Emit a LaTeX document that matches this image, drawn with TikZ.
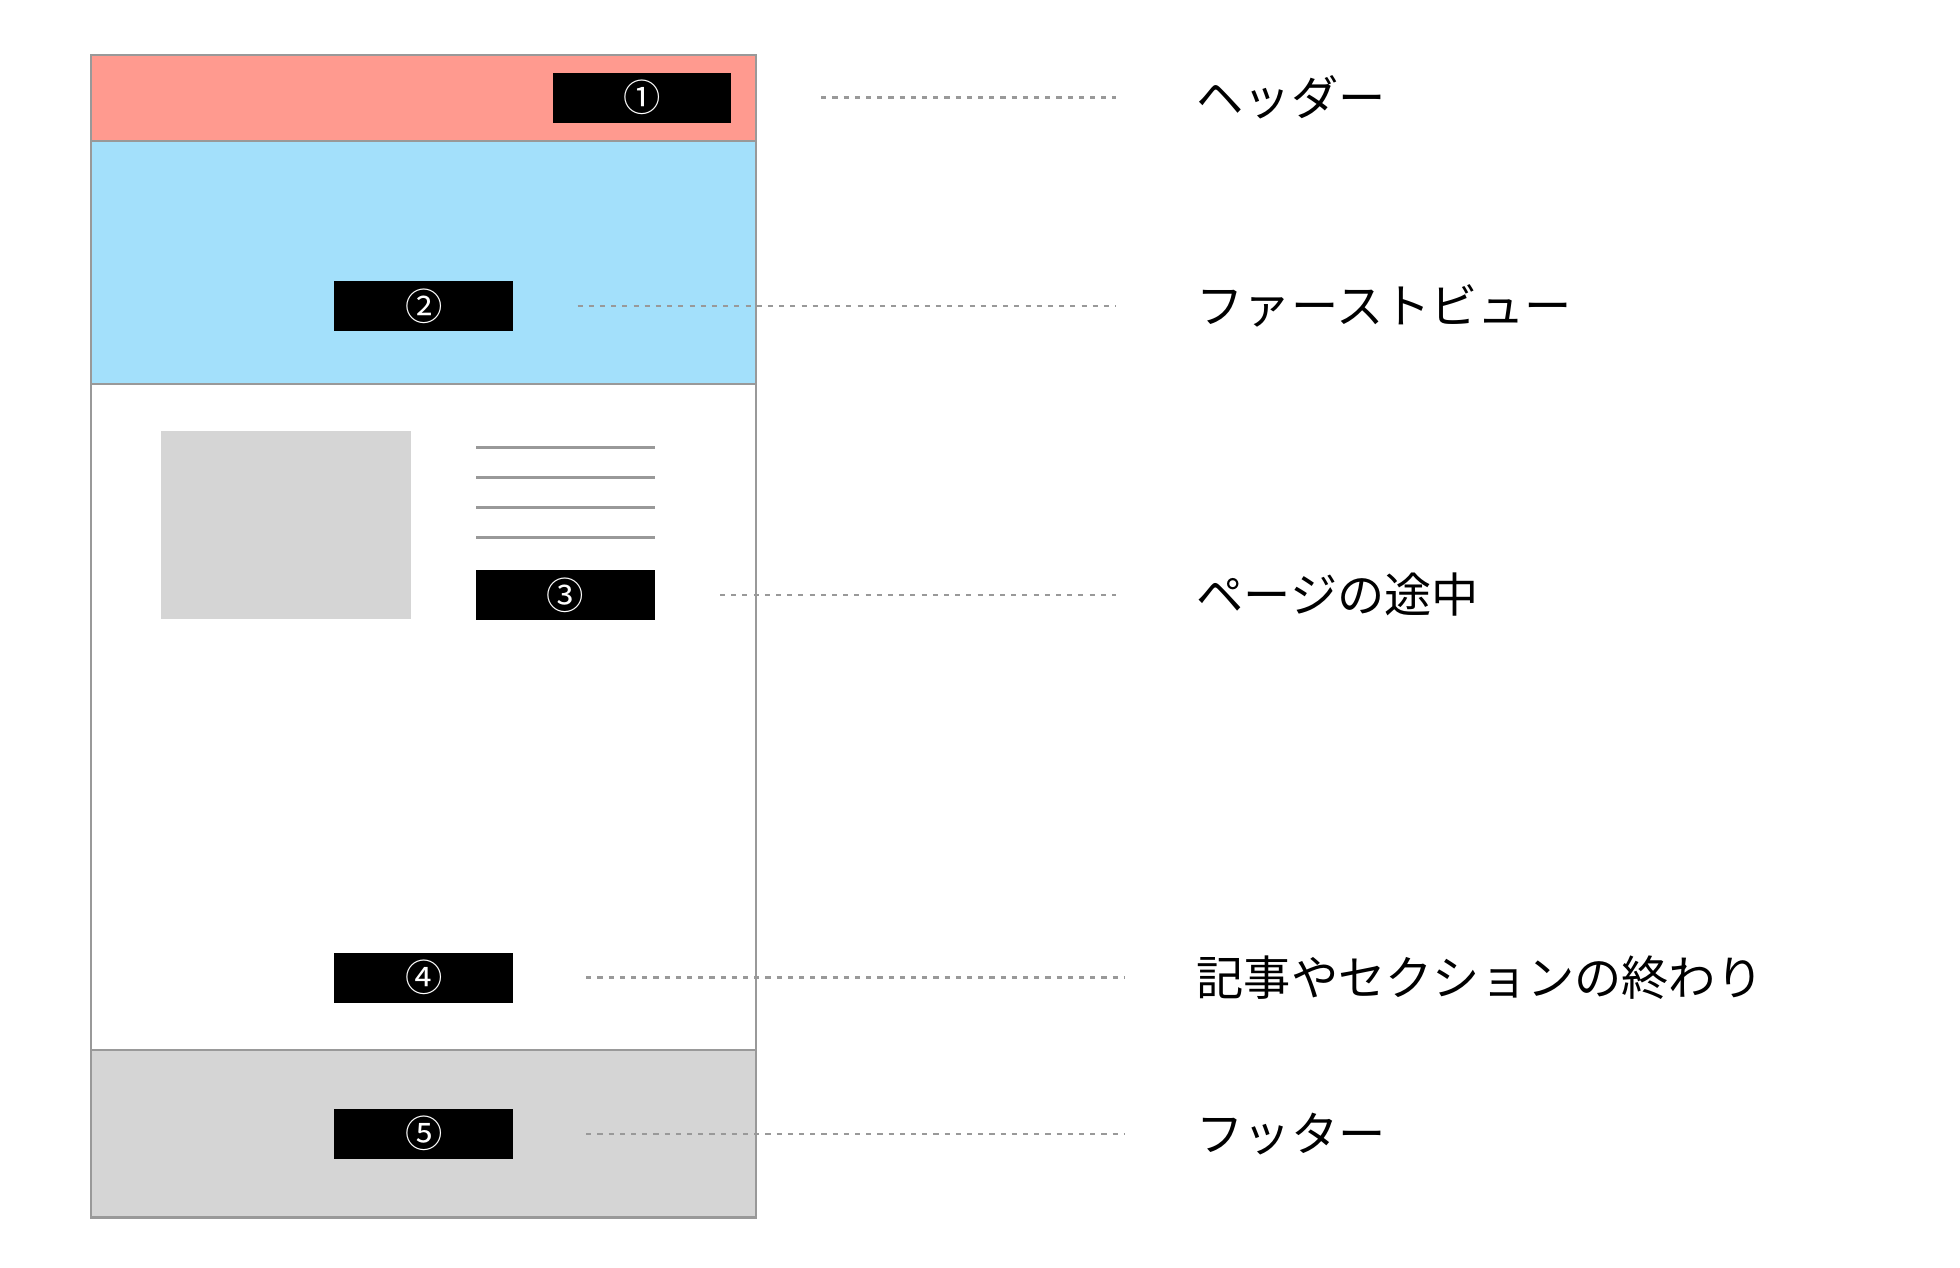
\documentclass[tikz,border=0pt]{standalone}
\usepackage{fontspec}
\newfontfamily\jp{Noto Sans CJK JP}
\definecolor{hdr}{HTML}{FF9A8F}
\definecolor{fv}{HTML}{A3E0FB}
\definecolor{lg}{HTML}{D5D5D5}
\definecolor{fr}{HTML}{999999}
\begin{document}
\begin{tikzpicture}[x=0.02cm,y=-0.02cm,
  blk/.style={fill=black,draw=none,minimum width=143*0.02cm,minimum height=40*0.02cm,inner sep=0,text=white,font=\jp\fontsize{17}{17}\selectfont},
  lbl/.style={anchor=west,inner sep=0,font=\jp\fontsize{21.5}{22}\selectfont},
  dots/.style={draw=fr,line width=1.1pt,dash pattern=on 2.3pt off 2.8pt}]
\useasboundingbox (0,0) rectangle (1568,1014);
\fill[hdr] (73,44) rectangle (605,113);
\fill[fv] (73,113) rectangle (605,307);
\fill[lg] (73,840) rectangle (605,974);
\fill[lg] (129,345) rectangle (329,495);
\foreach \y in {358,382,406,430} \draw[fr,line width=1pt] (381,\y) -- (524,\y);
\draw[fr,line width=1.1pt] (73,113) -- (605,113) (73,307) -- (605,307) (73,840) -- (605,840);
\draw[fr,line width=1.1pt] (73,44) rectangle (605,974);
\node[blk] (b1) at (513.5,78) {①};
\node[blk] (b2) at (339,245) {②};
\node[blk] (b3) at (452.5,476) {③};
\node[blk] (b4) at (339,782) {④};
\node[blk] (b5) at (339,907) {⑤};
\coordinate (s1) at (657,78); \coordinate (e1) at (893,78);
\coordinate (s2) at (462,245); \coordinate (e2) at (893,245);
\coordinate (s3) at (576,476); \coordinate (e3) at (893,476);
\coordinate (s4) at (469,782); \coordinate (e4) at (900,782);
\coordinate (s5) at (469,907); \coordinate (e5) at (900,907);
\foreach \i in {1,...,5} \draw[dots] (s\i) -- (e\i);
\node[lbl] (l1) at (957,78) {ヘッダー};
\node[lbl] (l2) at (957,245) {ファーストビュー};
\node[lbl] (l3) at (957,476) {ページの途中};
\node[lbl] (l4) at (957,782) {記事やセクションの終わり};
\node[lbl] (l5) at (957,907) {フッター};
\end{tikzpicture}
\end{document}
